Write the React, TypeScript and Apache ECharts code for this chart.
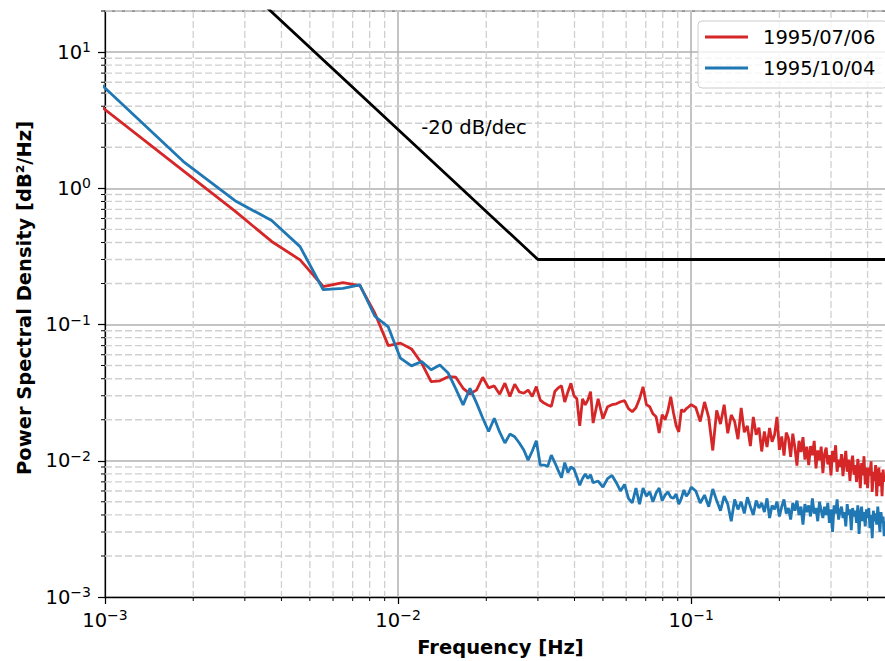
import { useEffect, useRef } from "react";
import * as echarts from "echarts";

// FFT bin width of both spectra (Hz)
const BIN_HZ = 1 / 1080;

// bins 1..50, every bin
const RED_LOW = [
  4.3, 1.34, 0.68, 0.407, 0.298, 0.19, 0.203, 0.193, 0.121, 0.07,
  0.073, 0.0662, 0.052, 0.0381, 0.0386, 0.0414, 0.041, 0.034, 0.031, 0.033,
  0.041, 0.0343, 0.0354, 0.0308, 0.0371, 0.0296, 0.0365, 0.032, 0.0313, 0.033,
  0.0296, 0.035, 0.0279, 0.0265, 0.0257, 0.025, 0.0322, 0.0343, 0.0355, 0.027,
  0.032, 0.037, 0.03, 0.0285, 0.018, 0.0285, 0.0257, 0.028, 0.0322, 0.0189,
];
const BLUE_LOW = [
  6.35, 1.57, 0.81, 0.58, 0.373, 0.18, 0.184, 0.195, 0.115, 0.096,
  0.0566, 0.0497, 0.0535, 0.0465, 0.0505, 0.0441, 0.0337, 0.0257, 0.034, 0.0266,
  0.0206, 0.0164, 0.0205, 0.0162, 0.0135, 0.0157, 0.015, 0.0135, 0.012, 0.0101,
  0.0118, 0.014, 0.0093, 0.0093, 0.0091, 0.011, 0.0097, 0.0085, 0.0075, 0.0097,
  0.0082, 0.009, 0.0087, 0.0076, 0.0066, 0.0074, 0.008, 0.0074, 0.0079, 0.0069,
];

// bins 52..108, every 2nd bin
const RED_MID = [
  0.0285, 0.0203, 0.0249, 0.0258, 0.0262, 0.0271, 0.0276, 0.0241, 0.0229, 0.0245,
  0.0285, 0.0349, 0.0258, 0.0249, 0.0221, 0.021, 0.016, 0.0218, 0.02, 0.0233,
  0.0295, 0.0225, 0.0181, 0.0163, 0.0237, 0.0229, 0.0241, 0.0249, 0.0258,
];
const BLUE_MID = [
  0.0071, 0.0064, 0.0074, 0.0078, 0.0069, 0.006, 0.0067, 0.0053, 0.0049, 0.0063,
  0.0048, 0.0063, 0.0055, 0.0059, 0.005, 0.0058, 0.0063, 0.0051, 0.0056, 0.0059,
  0.0054, 0.0053, 0.0057, 0.0048, 0.0053, 0.0061, 0.0055, 0.0058, 0.0064,
];

// bins 112..496, every 4th bin
const RED_HIGH = [
  0.0246, 0.0194, 0.027, 0.0207, 0.0119, 0.0234, 0.0186, 0.0258, 0.0159, 0.0217,
  0.0194, 0.0144, 0.0244, 0.0162, 0.018, 0.0128, 0.021, 0.0155, 0.0175, 0.0117,
  0.0164, 0.0126, 0.0174, 0.0138, 0.0155, 0.021, 0.012, 0.0151, 0.0109, 0.0161,
  0.0146, 0.0107, 0.0158, 0.0125, 0.0092, 0.014, 0.0116, 0.0149, 0.0102, 0.0127,
  0.0093, 0.0128, 0.011, 0.014, 0.0088, 0.0119, 0.0101, 0.0127, 0.0081, 0.0112,
  0.0125, 0.0094, 0.011, 0.0078, 0.0118, 0.0098, 0.013, 0.0083, 0.0102, 0.009,
  0.0112, 0.0077, 0.0099, 0.0118, 0.0083, 0.0102, 0.0071, 0.0096, 0.0109, 0.0079,
  0.0093, 0.007, 0.0103, 0.0085, 0.0063, 0.0096, 0.0078, 0.0108, 0.0067, 0.0089,
  0.0063, 0.0089, 0.0078, 0.0099, 0.0059, 0.0083, 0.0071, 0.0093, 0.0055, 0.0079,
  0.0089, 0.0065, 0.0082, 0.0055, 0.0086, 0.007, 0.0079,
];
const BLUE_HIGH = [
  0.006, 0.0049, 0.0056, 0.0046, 0.0062, 0.0051, 0.0043, 0.0055, 0.0048, 0.0036,
  0.0052, 0.0044, 0.005, 0.0041, 0.0054, 0.0046, 0.004, 0.0051, 0.0045, 0.0049,
  0.0042, 0.0053, 0.0038, 0.0047, 0.0044, 0.005, 0.0039, 0.0046, 0.0052, 0.0041,
  0.0045, 0.0037, 0.0049, 0.0043, 0.0051, 0.004, 0.0046, 0.0034, 0.0048, 0.0042,
  0.0047, 0.0039, 0.0053, 0.0041, 0.0045, 0.0036, 0.005, 0.0043, 0.0038, 0.0046,
  0.004, 0.0049, 0.0035, 0.0044, 0.003, 0.0047, 0.0041, 0.0052, 0.0037, 0.0043,
  0.0046, 0.0038, 0.0042, 0.0033, 0.0048, 0.004, 0.0044, 0.0031, 0.0045, 0.0039,
  0.0043, 0.0035, 0.0047, 0.0029, 0.0041, 0.0046, 0.0036, 0.0042, 0.0033, 0.0044,
  0.0038, 0.0045, 0.0032, 0.004, 0.0027, 0.0043, 0.0036, 0.0041, 0.0034, 0.0046,
  0.0037, 0.003, 0.0042, 0.0035, 0.0039, 0.0028, 0.0036,
];

const SEGMENTS = [
  { first: 1, step: 1 },
  { first: 52, step: 2 },
  { first: 112, step: 4 },
];

// -20 dB/dec reference line, then flat
const REF_F = [0.003, 0.03, 0.5];
const REF_PSD = [30, 0.3, 0.3];

const X_MIN = 0.001;
const X_MAX = 0.5;
const Y_MIN = 0.001;
const Y_MAX = 20;
const MINOR_MULTS = [2, 3, 4, 5, 6, 7, 8, 9];
const X_DECADES = [0.001, 0.01, 0.1];
const Y_DECADES = [0.001, 0.01, 0.1, 1, 10];

const FONT = "DejaVu Sans";
const RED = "#d62728";
const BLUE = "#1f77b4";
const MAJOR_GRID = "#b0b0b0";
const MINOR_GRID = "#d0d0d0";

function toPoints(parts: number[][]) {
  const pts: [number, number][] = [];
  parts.forEach((vals, i) => {
    const { first, step } = SEGMENTS[i];
    vals.forEach((v, j) => pts.push([(first + j * step) * BIN_HZ, v]));
  });
  return pts;
}

function minorValues(decades: number[], max: number) {
  const out: number[] = [];
  decades.forEach((d) => MINOR_MULTS.forEach((m) => {
    const v = d * m;
    if (v <= max * 1.0001) out.push(v);
  }));
  return out;
}

const powLabel = (v: number) => {
  const e = Math.log10(v);
  const r = Math.round(e);
  if (Math.abs(e - r) > 1e-6) return "";
  return `{b|10}{e|${r < 0 ? "\u2212" : ""}${Math.abs(r)}}`;
};

const labelRich = {
  b: { fontSize: 19.5, lineHeight: 24, fontFamily: FONT, color: "#000" },
  e: { fontSize: 14, lineHeight: 15, verticalAlign: "top", fontFamily: FONT, color: "#000" },
};

export default function App() {
  const chartRef = useRef<HTMLDivElement>(null);

  useEffect(() => {
    if (!chartRef.current) return;
    const chart = echarts.init(chartRef.current, undefined, { renderer: "svg" });

    const xMinor = minorValues(X_DECADES, X_MAX);
    const yMinor = minorValues(Y_DECADES, Y_MAX);

    const option: any = {
      animation: false,
      backgroundColor: "#fff",
      textStyle: { fontFamily: FONT },
      grid: {
        left: 105,
        top: 11,
        width: 791,
        height: 586,
        show: true,
        borderColor: "#000",
        borderWidth: 1.25,
        outerBoundsMode: "none",
      },
      legend: {
        data: ["1995/07/06", "1995/10/04"],
        orient: "vertical",
        left: 698,
        top: 21,
        padding: [3, 12, 7, 7],
        itemGap: 5,
        itemWidth: 43,
        itemHeight: 3,
        icon: "rect",
        selectedMode: false,
        backgroundColor: "rgba(255,255,255,0.8)",
        borderColor: "#cccccc",
        borderWidth: 1,
        borderRadius: 4,
        textStyle: { fontFamily: FONT, fontSize: 19.5, color: "#000", lineHeight: 26, padding: [0, 0, 0, 10] },
      },
      xAxis: {
        type: "log",
        logBase: 10,
        min: X_MIN,
        max: X_MAX,
        name: "Frequency [Hz]",
        nameLocation: "middle",
        nameGap: 40,
        nameTextStyle: { fontFamily: FONT, fontSize: 19.5, fontWeight: "bold", color: "#000" },
        axisLine: { lineStyle: { color: "#000", width: 1.25 } },
        axisTick: { length: 7, lineStyle: { color: "#000", width: 1.25 } },
        axisLabel: {
          margin: 11,
          fontSize: 19.5,
          fontFamily: FONT,
          color: "#000",
          formatter: powLabel,
          rich: labelRich,
          showMaxLabel: false,
        },
        splitLine: { show: true, lineStyle: { color: MAJOR_GRID, width: 1.5 } },
      },
      yAxis: {
        type: "log",
        logBase: 10,
        min: Y_MIN,
        max: Y_MAX,
        name: "Power Spectral Density [dB\u00b2/Hz]",
        nameLocation: "middle",
        nameGap: 69,
        nameTextStyle: {
          fontFamily: FONT,
          fontSize: 19.5,
          fontWeight: "bold",
          color: "#000",
          padding: [0, 0, 0, 12],
        },
        axisLine: { lineStyle: { color: "#000", width: 1.25 } },
        axisTick: { length: 7, lineStyle: { color: "#000", width: 1.25 } },
        axisLabel: {
          margin: 14,
          fontSize: 19.5,
          fontFamily: FONT,
          color: "#000",
          formatter: powLabel,
          rich: labelRich,
          showMaxLabel: false,
        },
        splitLine: { show: true, lineStyle: { color: MAJOR_GRID, width: 1.5 } },
      },
      series: [
        {
          type: "custom",
          name: "minor-x",
          silent: true,
          clip: false,
          z: 1,
          data: xMinor.map((f) => [f, 1]),
          encode: { x: 0, y: 1 },
          renderItem: (params: any, api: any) => {
            const cs = params.coordSys;
            const px = api.coord([api.value(0), api.value(1)])[0];
            const bottom = cs.y + cs.height;
            return {
              type: "group",
              children: [
                {
                  type: "line",
                  shape: { x1: px, y1: cs.y, x2: px, y2: bottom },
                  style: { stroke: MINOR_GRID, lineWidth: 1.3, lineDash: [7, 3] },
                },
                {
                  type: "line",
                  shape: { x1: px, y1: bottom, x2: px, y2: bottom + 4 },
                  style: { stroke: "#000", lineWidth: 1 },
                },
              ],
            };
          },
        },
        {
          type: "custom",
          name: "minor-y",
          silent: true,
          clip: false,
          z: 1,
          data: yMinor.map((v) => [0.01, v]),
          encode: { x: 0, y: 1 },
          renderItem: (params: any, api: any) => {
            const cs = params.coordSys;
            const py = api.coord([api.value(0), api.value(1)])[1];
            return {
              type: "group",
              children: [
                {
                  type: "line",
                  shape: { x1: cs.x, y1: py, x2: cs.x + cs.width, y2: py },
                  style: { stroke: MINOR_GRID, lineWidth: 1.3, lineDash: [7, 3] },
                },
                {
                  type: "line",
                  shape: { x1: cs.x - 4, y1: py, x2: cs.x, y2: py },
                  style: { stroke: "#000", lineWidth: 1 },
                },
              ],
            };
          },
        },
        {
          type: "line",
          name: "1995/07/06",
          data: toPoints([RED_LOW, RED_MID, RED_HIGH]),
          showSymbol: false,
          symbol: "none",
          clip: true,
          z: 3,
          color: RED,
          lineStyle: { color: RED, width: 2.8 },
        },
        {
          type: "line",
          name: "1995/10/04",
          data: toPoints([BLUE_LOW, BLUE_MID, BLUE_HIGH]),
          showSymbol: false,
          symbol: "none",
          clip: true,
          z: 4,
          color: BLUE,
          lineStyle: { color: BLUE, width: 2.8 },
        },
        {
          type: "line",
          name: "ref",
          data: REF_F.map((f, i) => [f, REF_PSD[i]]),
          showSymbol: false,
          symbol: "none",
          clip: true,
          z: 5,
          lineStyle: { color: "#000", width: 2.8 },
          markPoint: {
            silent: true,
            symbol: "circle",
            symbolSize: 0,
            data: [{ coord: [0.012, 2.5] }],
            label: {
              show: true,
              position: "right",
              distance: 0,
              offset: [0, -7],
              formatter: "-20 dB/dec",
              fontFamily: FONT,
              fontSize: 19.5,
              color: "#000",
            },
          },
        },
      ],
    };

    chart.setOption(option);
    return () => chart.dispose();
  }, []);

  return (
    <div
      ref={chartRef}
      style={{ position: "fixed", left: 0, top: 0, width: 885, height: 661 }}
    />
  );
}
